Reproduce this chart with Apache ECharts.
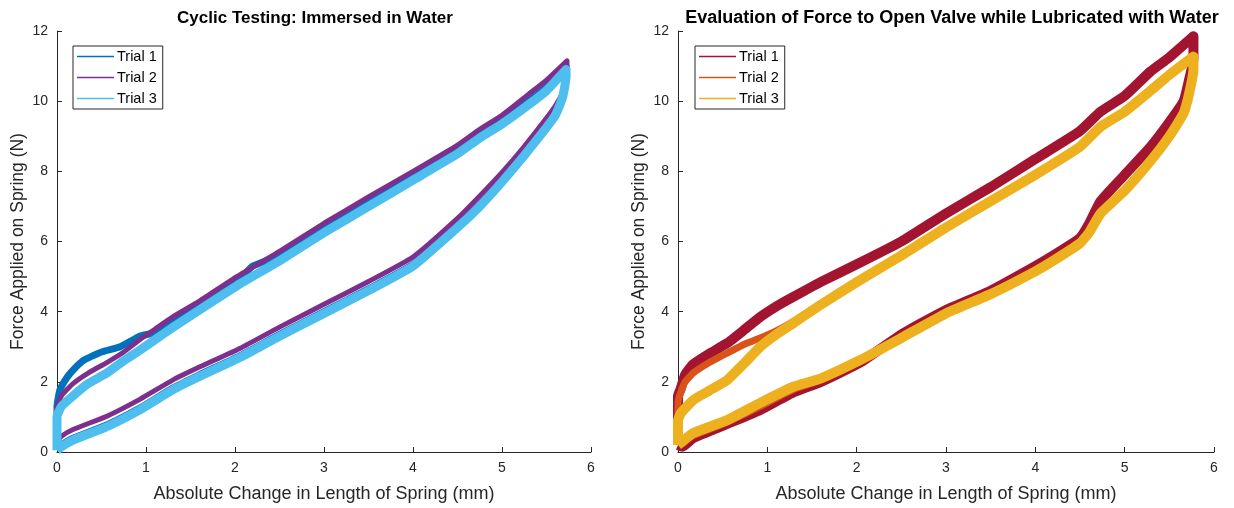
<!DOCTYPE html>
<html>
<head>
<meta charset="utf-8">
<script src="https://cdn.jsdelivr.net/npm/echarts@6/dist/echarts.min.js"></script>
<style>html,body{margin:0;padding:0;background:#fff}#c{width:1234px;height:508px}</style>
</head>
<body>
<div id="c"></div>
<script>
// ---- tick labels / titles ----
const xTicks = [0, 1, 2, 3, 4, 5, 6];
const yTicks = [0, 2, 4, 6, 8, 10, 12];
const trialNames = ['Trial 1', 'Trial 2', 'Trial 3'];
const titles = ['Cyclic Testing: Immersed in Water', 'Evaluation of Force to Open Valve while Lubricated with Water'];
const xLabel = 'Absolute Change in Length of Spring (mm)';
const yLabel = 'Force Applied on Spring (N)';

// ---- Left chart (immersed in water) : loops ----
const L1_x = [0, 0, 0.03, 0.08, 0.15, 0.29, 0.5, 0.71, 0.93, 1.1, 1.3, 1.6, 2.06, 2.2, 2.5, 3, 3.5, 4, 4.5, 4.75, 5, 5.3, 5.5, 5.72,
              5.72, 5.68, 5.6, 5.5, 5.25, 5, 4.75, 4.5, 4, 3.5, 3, 2.5, 2.06, 1.6, 1.3, 0.93, 0.56, 0.18, 0.05, 0];
const L1_y = [0.1, 1.3, 1.75, 2.0, 2.25, 2.6, 2.85, 3.0, 3.3, 3.4, 3.7, 4.2, 4.95, 5.3, 5.6, 6.35, 7.1, 7.85, 8.6, 9.05, 9.45, 10.0, 10.4, 11.0,
              10.75, 10.15, 9.65, 9.3, 8.5, 7.75, 7.05, 6.45, 5.35, 4.65, 4.0, 3.35, 2.75, 2.2, 1.82, 1.25, 0.77, 0.39, 0.2, 0.1];

const L2_x = [0, 0, 0.05, 0.18, 0.35, 0.56, 0.75, 0.93, 1.1, 1.3, 1.6, 2.02, 2.5, 3, 3.5, 4, 4.5, 4.75, 5, 5.3, 5.5, 5.73,
              5.73, 5.7, 5.6, 5.5, 5.24, 5, 4.75, 4.5, 4, 3.5, 3, 2.5, 2.06, 1.6, 1.3, 0.93, 0.56, 0.18, 0.05, 0];
const L2_y = [0.3, 1.25, 1.6, 1.95, 2.25, 2.55, 2.85, 3.2, 3.5, 3.85, 4.3, 5.0, 5.72, 6.52, 7.27, 8.0, 8.75, 9.2, 9.6, 10.2, 10.6, 11.15,
              10.9, 10.33, 9.87, 9.52, 8.68, 7.97, 7.3, 6.66, 5.56, 4.86, 4.21, 3.56, 2.96, 2.42, 2.05, 1.5, 1.02, 0.64, 0.45, 0.3];

const L3_x = [0, 0, 0.05, 0.18, 0.35, 0.56, 0.75, 0.93, 1.1, 1.3, 1.6, 2.06, 2.5, 3, 3.5, 4, 4.5, 4.75, 5, 5.3, 5.5, 5.72,
              5.72, 5.68, 5.6, 5.5, 5.25, 5, 4.75, 4.5, 4, 3.5, 3, 2.5, 2.06, 1.6, 1.3, 0.93, 0.56, 0.18, 0.05, 0];
const L3_y = [0.05, 1.0, 1.3, 1.6, 1.95, 2.25, 2.6, 2.9, 3.2, 3.55, 4.05, 4.8, 5.45, 6.25, 7.0, 7.75, 8.5, 8.95, 9.35, 9.9, 10.3, 10.9,
              10.7, 10.1, 9.6, 9.25, 8.45, 7.7, 7.0, 6.4, 5.3, 4.6, 3.95, 3.3, 2.7, 2.15, 1.77, 1.2, 0.72, 0.34, 0.15, 0.05];

// ---- Right chart (lubricated with water) ----
const R1_x = [0, 0, 0.03, 0.08, 0.17, 0.35, 0.55, 0.75, 0.92, 1.1, 1.29, 1.6, 2.04, 2.5, 3, 3.5, 4, 4.5, 4.73, 5, 5.29, 5.5, 5.77,
              5.77, 5.72, 5.66, 5.5, 5.29, 5, 4.73, 4.6, 4.5, 4.2, 4, 3.5, 3, 2.5, 2.04, 1.6, 1.29, 0.92, 0.55, 0.17, 0.05, 0];
const R1_y = [0.2, 1.6, 1.8, 2.2, 2.5, 2.8, 3.1, 3.5, 3.85, 4.15, 4.42, 4.85, 5.4, 6.0, 6.8, 7.55, 8.35, 9.15, 9.7, 10.15, 10.85, 11.25, 11.85,
              11.2, 10.6, 10.0, 9.4, 8.7, 7.9, 7.15, 6.5, 6.1, 5.6, 5.3, 4.6, 4.05, 3.35, 2.55, 2.0, 1.7, 1.2, 0.8, 0.4, 0.15, 0.2];

const R2_x = [0, 0, 0.03, 0.08, 0.17, 0.35, 0.55, 0.75, 0.92, 1.1, 1.29, 1.6, 2.04, 2.5, 3, 3.5, 4, 4.5, 4.73, 5, 5.29, 5.5, 5.77,
              5.77, 5.72, 5.66, 5.5, 5.29, 5, 4.73, 4.6, 4.5, 4.2, 4, 3.5, 3, 2.5, 2.04, 1.6, 1.29, 0.92, 0.55, 0.17, 0.05, 0];
const R2_y = [0.3, 1.4, 1.7, 2.0, 2.25, 2.55, 2.82, 3.08, 3.25, 3.45, 3.72, 4.22, 4.92, 5.62, 6.42, 7.17, 7.92, 8.72, 9.29, 9.72, 10.32, 10.77, 11.29,
              10.95, 10.25, 9.7, 9.05, 8.33, 7.48, 6.82, 6.28, 5.98, 5.48, 5.17, 4.52, 3.97, 3.27, 2.6, 2.05, 1.78, 1.3, 0.85, 0.47, 0.28, 0.3];

const R3_x = [0, 0, 0.03, 0.17, 0.35, 0.55, 0.75, 0.92, 1.1, 1.29, 1.6, 2.04, 2.5, 3, 3.5, 4, 4.5, 4.73, 5, 5.29, 5.5, 5.77,
              5.77, 5.72, 5.66, 5.5, 5.29, 5, 4.73, 4.6, 4.5, 4.2, 4, 3.5, 3, 2.5, 2.04, 1.6, 1.29, 0.92, 0.55, 0.17, 0.05, 0];
const R3_y = [0.2, 0.9, 1.1, 1.48, 1.75, 2.05, 2.55, 3.0, 3.35, 3.67, 4.2, 4.9, 5.6, 6.4, 7.15, 7.9, 8.7, 9.27, 9.7, 10.3, 10.75, 11.27,
              10.9, 10.2, 9.66, 9.0, 8.3, 7.45, 6.8, 6.25, 5.95, 5.45, 5.15, 4.5, 3.95, 3.25, 2.62, 2.1, 1.86, 1.4, 0.91, 0.54, 0.3, 0.2];

const leftColors = ['#0072BD', '#7E2F8E', '#4DBEEE'];
const rightColors = ['#A2142F', '#D95319', '#EDB120'];

function pairs(xs, ys) { return xs.map((x, i) => [x, ys[i]]); }

const FONT = '"Liberation Sans", Arial, sans-serif';
const axisColor = '#262626';

function xAxis(gi) {
  return {
    type: 'value', gridIndex: gi, min: 0, max: 6, interval: 1,
    name: xLabel, nameLocation: 'middle', nameGap: 33,
    nameTextStyle: { fontFamily: FONT, fontSize: 18, color: axisColor },
    axisLine: { show: true, lineStyle: { color: axisColor, width: 1 } },
    axisTick: { show: true, inside: true, length: 5, lineStyle: { color: axisColor } },
    axisLabel: { fontFamily: FONT, fontSize: 14, color: axisColor, margin: 9 },
    splitLine: { show: false }
  };
}
function yAxis(gi) {
  return {
    type: 'value', gridIndex: gi, min: 0, max: 12, interval: 2,
    name: yLabel, nameLocation: 'middle', nameGap: 30, nameRotate: 90,
    nameTextStyle: { fontFamily: FONT, fontSize: 17.5, color: axisColor },
    axisLine: { show: true, lineStyle: { color: axisColor, width: 1 } },
    axisTick: { show: true, inside: true, length: 5, lineStyle: { color: axisColor } },
    axisLabel: { fontFamily: FONT, fontSize: 14, color: axisColor, margin: 9 },
    splitLine: { show: false }
  };
}

const leftData = [pairs(L1_x, L1_y), pairs(L2_x, L2_y), pairs(L3_x, L3_y)];
const rightData = [pairs(R1_x, R1_y), pairs(R2_x, R2_y), pairs(R3_x, R3_y)];
const leftWidths = [7, 5, 9];
const rightWidths = [10, 7, 10];

const series = [];
trialNames.forEach((n, i) => {
  series.push({
    type: 'line', name: n, xAxisIndex: 0, yAxisIndex: 0, data: leftData[i],
    showSymbol: false, symbol: 'none', smooth: 0.15, animation: false,
    lineStyle: { color: leftColors[i], width: leftWidths[i], join: 'round' }, itemStyle: { color: leftColors[i] }
  });
});
trialNames.forEach((n, i) => {
  series.push({
    type: 'line', name: n + ' ', xAxisIndex: 1, yAxisIndex: 1, data: rightData[i],
    showSymbol: false, symbol: 'none', smooth: 0.15, animation: false,
    lineStyle: { color: rightColors[i], width: rightWidths[i], join: 'round' }, itemStyle: { color: rightColors[i] }
  });
});

function legend(left, names) {
  return {
    orient: 'vertical', left: left, top: 46,
    data: names.map(n => ({ name: n, icon: 'rect' })),
    formatter: n => n.trim(),
    itemWidth: 37, itemHeight: 1.6, itemGap: 6,
    padding: [3, 6, 3, 4],
    borderColor: '#262626', borderWidth: 1, backgroundColor: '#fff',
    textStyle: { fontFamily: FONT, fontSize: 14.5, color: '#000', padding: [0, 0, 0, -2] },
    selectedMode: false
  };
}

const chart = echarts.init(document.getElementById('c'), null, { renderer: 'canvas' });
chart.setOption({
  animation: false,
  title: [
    { text: titles[0], left: 310, top: 5, textAlign: 'center',
      textStyle: { fontFamily: FONT, fontSize: 17, fontWeight: 'bold', color: '#000' } },
    { text: titles[1], left: 947, top: 4, textAlign: 'center',
      textStyle: { fontFamily: FONT, fontSize: 18, fontWeight: 'bold', color: '#000' } }
  ],
  grid: [
    { left: 57, right: 643, top: 31, bottom: 56, containLabel: false },
    { left: 678, right: 20, top: 31, bottom: 56, containLabel: false }
  ],
  xAxis: [xAxis(0), xAxis(1)],
  yAxis: [yAxis(0), yAxis(1)],
  legend: [legend(73, trialNames), legend(695, trialNames.map(n => n + ' '))],
  series: series
});
</script>
</body>
</html>
